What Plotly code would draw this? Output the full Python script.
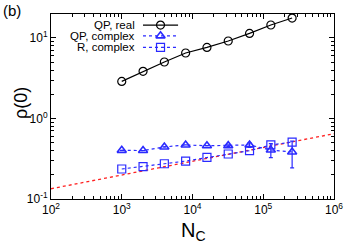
import plotly.graph_objects as go

# ---- data ----
nc = [1000, 2000, 4000, 8000, 16000, 32000, 64000, 128000, 256000]
qp_real = [2.89, 3.85, 5.03, 6.51, 7.64, 9.18, 11.4, 14.5, 17.7]
qp_complex = [0.402, 0.40, 0.443, 0.469, 0.459, 0.46, 0.469, 0.406, 0.384]
qp_complex_err = [0.0, 0.0, 0.0, 0.0, 0.0, 0.01, 0.03, 0.08, 0.14]
r_complex = [0.236, 0.252, 0.274, 0.296, 0.329, 0.362, 0.398, 0.469, 0.510]
fit_x = [1e2, 1e6]
fit_y = [0.134, 0.647]
legend_names = ["QP, real", "QP, complex", "R, complex"]

x_major = [1e2, 1e3, 1e4, 1e5, 1e6]
x_major_text = ["10<sup>2</sup>", "10<sup>3</sup>", "10<sup>4</sup>", "10<sup>5</sup>", "10<sup>6</sup>"]
y_major = [0.1, 1, 10]
y_major_text = ["10<sup>-1</sup>", "10<sup>0</sup>", "10<sup>1</sup>"]

BLUE = "#2a2aff"
font = "Liberation Sans, Arial, sans-serif"

x_minor = [m * 10 ** e for e in range(2, 6) for m in range(2, 10)]
y_minor = [m * 10 ** e for e in range(-1, 2) for m in range(2, 10) if m * 10 ** e <= 20]

fig = go.Figure()

fig.add_trace(go.Scatter(x=fit_x, y=fit_y, mode="lines",
                         line=dict(color="#ff2020", width=1.3, dash="dot"), showlegend=False))
fig.add_trace(go.Scatter(x=nc, y=qp_real, mode="lines+markers",
                         line=dict(color="black", width=1.2),
                         marker=dict(symbol="circle-open", size=8, color="black", line=dict(width=1.2)),
                         showlegend=False))
fig.add_trace(go.Scatter(x=nc, y=qp_complex, mode="lines+markers",
                         line=dict(color=BLUE, width=1.2, dash="dot"),
                         marker=dict(symbol="triangle-up-open", size=8, color=BLUE, line=dict(width=1.6)),
                         error_y=dict(type="data", array=qp_complex_err, color=BLUE, thickness=1.2, width=2),
                         showlegend=False))
fig.add_trace(go.Scatter(x=nc, y=r_complex, mode="lines+markers",
                         line=dict(color=BLUE, width=1.2, dash="dot"),
                         marker=dict(symbol="square-open", size=8, color=BLUE, line=dict(width=1.2)),
                         showlegend=False))

# manual legend (text on the left, sample on the right) on an overlay axis
leg_y = [0.94, 0.882, 0.82]
leg_styles = [
    (dict(color="black", width=1.2), dict(symbol="circle-open", size=8, color="black", line=dict(width=1.2))),
    (dict(color=BLUE, width=1.2, dash="dot"), dict(symbol="triangle-up-open", size=8, color=BLUE, line=dict(width=1.6))),
    (dict(color=BLUE, width=1.2, dash="dot"), dict(symbol="square-open", size=8, color=BLUE, line=dict(width=1.2))),
]
for name, yy, (ln, mk) in zip(legend_names, leg_y, leg_styles):
    fig.add_trace(go.Scatter(x=[0.325, 0.449], y=[yy, yy], mode="lines", line=ln,
                             xaxis="x2", yaxis="y2", showlegend=False))
    fig.add_trace(go.Scatter(x=[0.387], y=[yy], mode="markers", marker=mk,
                             xaxis="x2", yaxis="y2", showlegend=False))
    fig.add_annotation(x=0.304, y=yy, xref="x2", yref="y2", text=name, showarrow=False,
                       xanchor="right", yanchor="middle", font=dict(size=11.5, color="black", family=font))

axis_common = dict(showgrid=False, zeroline=False, showline=True, linecolor="black", linewidth=1,
                   mirror="allticks", ticks="inside", ticklen=5, tickcolor="black",
                   tickfont=dict(size=12, color="black", family=font))

fig.update_layout(
    width=356, height=249,
    margin=dict(l=51, r=22, t=14, b=50),
    paper_bgcolor="white", plot_bgcolor="white",
    font=dict(family=font, color="black"),
    xaxis=dict(type="log", range=[2, 6], tickmode="array", tickvals=x_major, ticktext=x_major_text,
               minor=dict(tickmode="array", tickvals=x_minor, ticks="inside", ticklen=3, tickcolor="black"),
               **axis_common),
    yaxis=dict(type="log", range=[-1, 1.298], tickmode="array", tickvals=y_major, ticktext=y_major_text,
               minor=dict(tickmode="array", tickvals=y_minor, ticks="inside", ticklen=3, tickcolor="black"),
               **axis_common),
    xaxis2=dict(overlaying="x", range=[0, 1], visible=False, fixedrange=True),
    yaxis2=dict(overlaying="y", range=[0, 1], visible=False, fixedrange=True),
)

fig.add_annotation(x=0.0, y=1.0, xref="paper", yref="paper", xanchor="left", yanchor="top",
                   text="(b)", showarrow=False, font=dict(size=15, family=font), xshift=-50, yshift=14)
fig.add_annotation(x=-0.148, y=0.52, xref="paper", yref="paper", text="ρ(0)", textangle=-90,
                   showarrow=False, font=dict(size=18, family=font))
fig.add_annotation(x=0.502, y=-0.175, xref="paper", yref="paper", text="N<sub>C</sub>",
                   showarrow=False, yanchor="middle", font=dict(size=20, family=font))

fig.write_html("out.html", config={"displayModeBar": False},
               post_script="document.body.style.margin='0';")
